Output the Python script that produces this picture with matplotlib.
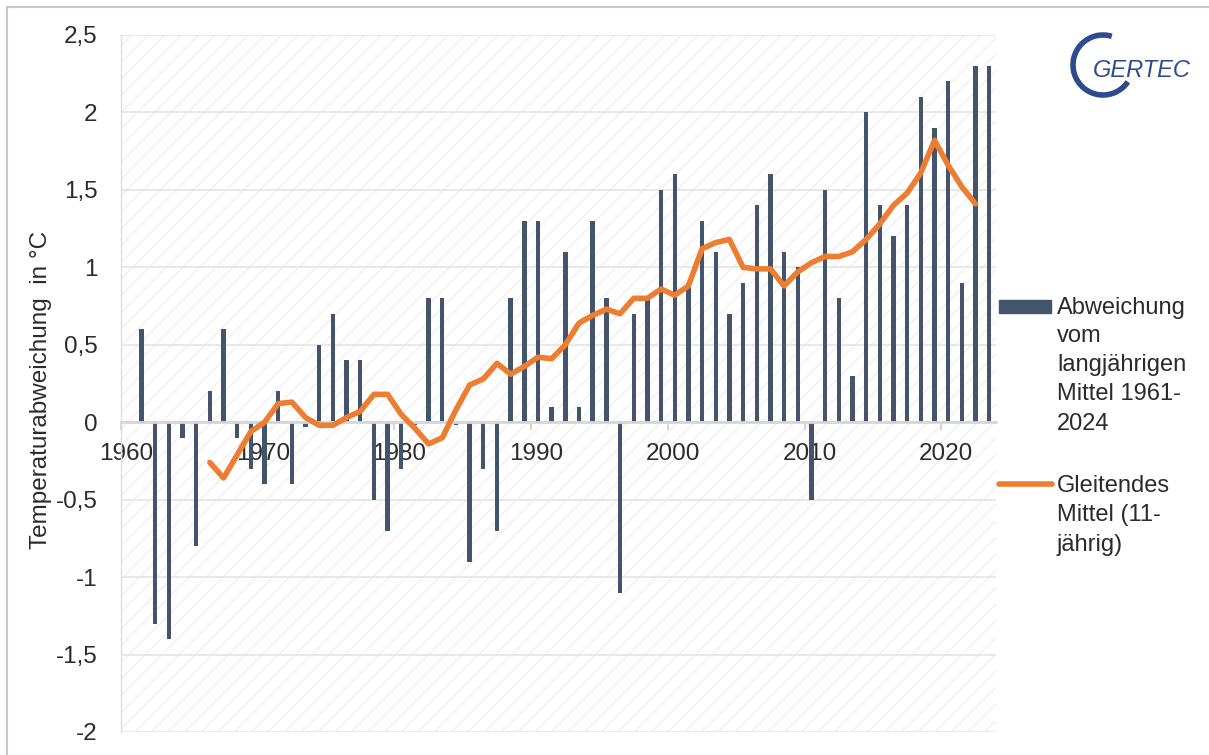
import numpy as np
import matplotlib.pyplot as plt
from matplotlib.patches import Rectangle, Arc
from matplotlib.lines import Line2D
from matplotlib.transforms import ScaledTranslation

plt.rcParams['font.family'] = ['Liberation Sans', 'DejaVu Sans']

# yearly deviation from the long-term mean (bars)
years = np.arange(1961, 2024)
anomaly = [0.6, -1.3, -1.4, -0.1, -0.8, 0.2, 0.6, -0.1, -0.3, -0.4,
           0.2, -0.4, -0.03, 0.5, 0.7, 0.4, 0.4, -0.5, -0.7, -0.3,
           -0.02, 0.8, 0.8, -0.02, -0.9, -0.3, -0.7, 0.8, 1.3, 1.3,
           0.1, 1.1, 0.1, 1.3, 0.8, -1.1, 0.7, 0.8, 1.5, 1.6,
           0.9, 1.3, 1.1, 0.7, 0.9, 1.4, 1.6, 1.1, 1.0, -0.5,
           1.5, 0.8, 0.3, 2.0, 1.4, 1.2, 1.4, 2.1, 1.9, 2.2,
           0.9, 2.3, 2.3]

# 11-year moving average (line)
ma_years = np.arange(1966, 2023)
moving_avg = [-0.26, -0.36, -0.21, -0.06, 0.00, 0.12, 0.13, 0.03, -0.02, -0.02,
              0.03, 0.07, 0.18, 0.18, 0.05, -0.04, -0.14, -0.10, 0.08, 0.24,
              0.28, 0.38, 0.31, 0.36, 0.42, 0.41, 0.50, 0.64, 0.69, 0.73,
              0.70, 0.80, 0.80, 0.86, 0.82, 0.88, 1.12, 1.16, 1.18, 1.00,
              0.99, 0.99, 0.88, 0.97, 1.03, 1.07, 1.07, 1.10, 1.18, 1.28,
              1.40, 1.48, 1.61, 1.82, 1.66, 1.52, 1.41]

y_ticks = [-2, -1.5, -1, -0.5, 0, 0.5, 1, 1.5, 2, 2.5]
y_tick_labels = ['-2', '-1,5', '-1', '-0,5', '0', '0,5', '1', '1,5', '2', '2,5']
x_ticks = [1960, 1970, 1980, 1990, 2000, 2010, 2020]

bar_label = ['Abweichung', 'vom', 'langjährigen', 'Mittel 1961-', '2024']
line_label = ['Gleitendes', 'Mittel (11-', 'jährig)']

BAR_COLOR = '#44546A'
LINE_COLOR = '#ED7D31'
TEXT_COLOR = '#2b2b2b'
LOGO_COLOR = '#2d4b8e'

W, H = 1209, 755


def px(x, y):
    # pixel position (from top-left) -> figure fraction
    return x / W, 1 - y / H


fig = plt.figure(figsize=(W / 100, H / 100), dpi=100)
ax = fig.add_axes([121 / W, (H - 732) / H, (996 - 121) / W, (732 - 35) / H])

# hatched plot area
ax.add_patch(Rectangle((0, 0), 1, 1, transform=ax.transAxes, facecolor='none',
                       edgecolor='#f0f0f0', hatch='//', lw=0, zorder=0))

ax.bar(years + 0.5, anomaly, width=0.32, color=BAR_COLOR, zorder=2)
ax.plot(ma_years + 0.5, moving_avg, color=LINE_COLOR, lw=4,
        solid_capstyle='round', solid_joinstyle='round', zorder=3)

ax.set_xlim(1960, 2024)
ax.set_ylim(-2, 2.5)
ax.set_yticks(y_ticks, y_tick_labels)
ax.set_xticks(x_ticks, [str(t) for t in x_ticks])
ax.set_axisbelow(True)
ax.grid(axis='y', color='#e6e6e6', lw=1.3)

for side in ['top', 'right']:
    ax.spines[side].set_visible(False)
ax.spines['left'].set_color('#dedede')
ax.spines['left'].set_linewidth(1)
ax.spines['bottom'].set_position(('data', 0))
ax.spines['bottom'].set_color('#d6d6d6')
ax.spines['bottom'].set_linewidth(2)

ax.tick_params(axis='x', direction='out', length=6, width=1.5, color='#d6d6d6',
               labelsize=17.5, labelcolor=TEXT_COLOR, pad=9)
ax.tick_params(axis='y', length=0, labelsize=17.5, labelcolor=TEXT_COLOR, pad=17)
shift = ScaledTranslation(5 / 100, 0, fig.dpi_scale_trans)
for lbl in ax.get_xticklabels():
    lbl.set_transform(lbl.get_transform() + shift)

ax.set_ylabel('Temperaturabweichung  in °C', fontsize=17.5, color=TEXT_COLOR)
ax.yaxis.set_label_coords((52 - 121) / 875, (732 - 390) / 697)

# legend, drawn by hand like the Excel one
fig.add_artist(Rectangle(px(999, 313), 52 / W, 13 / H, transform=fig.transFigure,
                         color=BAR_COLOR))
x0, y0 = px(999, 484)
x1, _ = px(1052, 484)
fig.add_artist(Line2D([x0, x1], [y0, y0], transform=fig.transFigure,
                      color=LINE_COLOR, lw=4, solid_capstyle='round'))
for i, line in enumerate(bar_label):
    fig.text(*px(1057, 313.5 + i * 29), line, fontsize=17, color=TEXT_COLOR, va='baseline')
for i, line in enumerate(line_label):
    fig.text(*px(1057, 492.5 + i * 29), line, fontsize=17, color=TEXT_COLOR, va='baseline')

# logo
logo = fig.add_axes([1065 / W, 1 - 105 / H, 140 / W, 80 / H])
logo.set_xlim(0, 140)
logo.set_ylim(0, 80)
logo.axis('off')
logo.add_patch(Arc((38, 40), 60, 60, theta1=73, theta2=326, color=LOGO_COLOR, lw=4))
logo.text(28, 28, 'GERTEC', fontsize=17, style='italic', color=LOGO_COLOR, va='baseline')

# chart border
fig.add_artist(Line2D([7 / W, 7 / W], [0, 1 - 7 / H], transform=fig.transFigure,
                      color='#c8c8c8', lw=1.5))
fig.add_artist(Line2D([7 / W, 1], [1 - 7 / H, 1 - 7 / H], transform=fig.transFigure,
                      color='#c8c8c8', lw=1.5))

fig.savefig('out.png', dpi=100, facecolor='white')
